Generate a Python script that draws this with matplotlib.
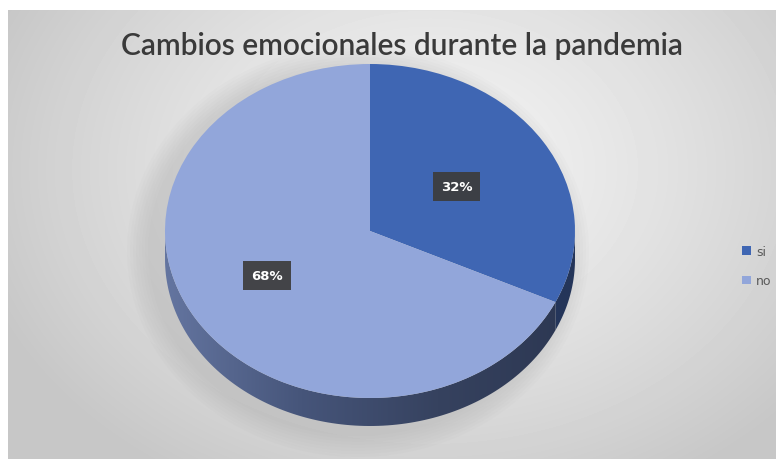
import numpy as np
import matplotlib.pyplot as plt
from matplotlib.patches import Polygon, Ellipse
from matplotlib.colors import LinearSegmentedColormap

# data
labels = ['si', 'no']
values = [32, 68]
top_colors = ['#3f66b3', '#92a6da']
title = 'Cambios emocionales durante la pandemia'

W, H = 776, 460
fig = plt.figure(figsize=(W / 100, H / 100), dpi=100)

# background with radial gradient (pixel coordinates)
bg = fig.add_axes([0, 0, 1, 1])
bg.set_xlim(0, W)
bg.set_ylim(H, 0)
bg.axis('off')
yy, xx = np.mgrid[11:H, 8:W]
d = np.sqrt(((xx - 430) / 470.0) ** 2 + ((yy - 170) / 360.0) ** 2)
d = np.clip(d, 0, 1) ** 1.3
grad = 0.955 - (0.955 - 0.78) * d
bg.imshow(grad, cmap='gray', vmin=0, vmax=1, extent=[8, W, H, 11],
          aspect='auto', interpolation='bilinear')

# soft shadow under the pie (mostly left and below)
for i in range(8):
    bg.add_patch(Ellipse((358, 252), 420 + i * 6, 370 + i * 6,
                         color='#7a7a7a', alpha=0.022, lw=0))

fig.text(402 / W, 1 - 46 / H, title, ha='center', va='center', fontsize=21.5,
         family='Lato', fontweight='semibold', color='#3a3a3a', zorder=5)

# pie axes: unit circle mapped to ellipse
cx, cy, a, b, depth = 370, 232, 205, 167, 28
y_bottom = cy + b + depth + 4
ax = fig.add_axes([(cx - a) / W, (H - y_bottom) / H, 2 * a / W, (y_bottom - (cy - b)) / H])
wedges, texts, autotexts = ax.pie(values, colors=top_colors, startangle=90,
                                  counterclock=False, autopct='%1.0f%%',
                                  pctdistance=0.5,
                                  wedgeprops=dict(linewidth=0),
                                  textprops=dict(color='white', fontsize=9.5,
                                                 fontweight='bold', zorder=10))
ax.set_aspect('auto')
ax.axis('off')

dz = depth / b
side_cmaps = [
    LinearSegmentedColormap.from_list('s0', ['#3a4f80', '#2a3d68', '#243559']),
    LinearSegmentedColormap.from_list('s1', ['#6475a0', '#46557a', '#36425f', '#2c3752']),
]
for k, w in enumerate(wedges):
    t1, t2 = w.theta1, w.theta2
    for shift in (0, 360, -360):
        lo = max(t1 + shift, -180)
        hi = min(t2 + shift, 0)
        if hi <= lo:
            continue
        t = np.radians(np.linspace(lo, hi, 120))
        top = np.column_stack([np.cos(t), np.sin(t)])
        bot = np.column_stack([np.cos(t), np.sin(t) - dz])[::-1]
        poly = Polygon(np.vstack([top, bot]), closed=True, lw=0, fc='none')
        ax.add_patch(poly)
        g = np.linspace(0, 1, 256).reshape(1, -1)
        im = ax.imshow(g, cmap=side_cmaps[k], extent=[-1, 1, -1 - dz, 0],
                       aspect='auto', zorder=0.5)
        im.set_clip_path(poly)
for w in wedges:
    w.set_zorder(1)

for t in autotexts:
    t.set_bbox(dict(boxstyle='square,pad=0.6', fc='#3c3c3c', ec='none', alpha=0.92))
# the "no" label sits a bit further left in the original
x0, y0 = autotexts[1].get_position()
autotexts[1].set_position((x0 - 0.08, y0))
ax.set_xlim(-1, 1)
ax.set_ylim(-(y_bottom - cy) / b, 1)

leg = fig.legend(wedges, labels, loc='center left', bbox_to_anchor=(731 / W, 1 - 267 / H),
                 frameon=False, fontsize=9, handlelength=0.7, handleheight=0.7,
                 handletextpad=0.4, labelspacing=1.35, labelcolor='#595959')

fig.savefig('out.png', dpi=100, facecolor='white')
